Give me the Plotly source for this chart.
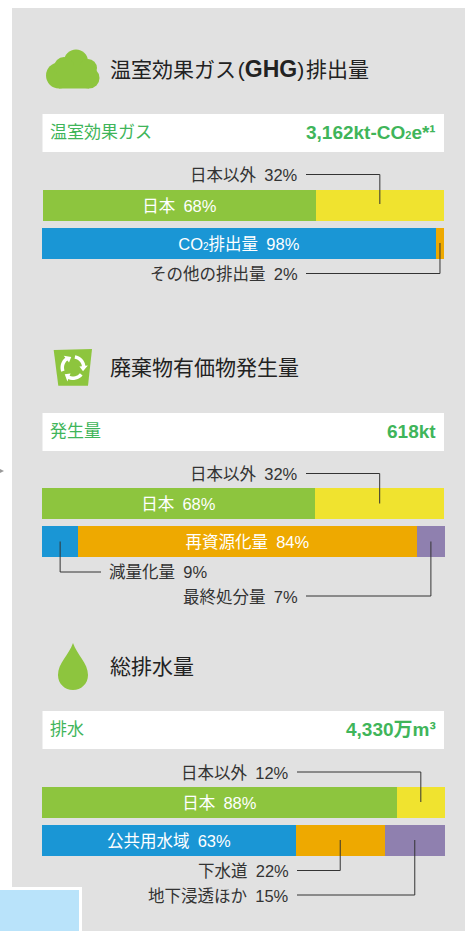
import math
import plotly.graph_objects as go

W, H = 465, 931
FONT = "Liberation Sans, Noto Sans CJK JP, sans-serif"

# ---- data ----
GREEN, YELLOW, BLUE, ORANGE, PURPLE = "#8dc53e", "#f0e32f", "#1a96d5", "#eea900", "#8f80af"

ghg_origin_values = [68, 32]
ghg_type_values = [98, 2]
waste_origin_values = [68, 32]
waste_type_values = [9, 84, 7]
water_origin_values = [88, 12]
water_type_values = [63, 22, 15]

SMALL2 = '<span style="font-size:10px">2</span>'
ghg_origin_names = ["日本", "日本以外"]
ghg_type_names = [f"CO{SMALL2}排出量", "その他の排出量"]
waste_origin_names = ["日本", "日本以外"]
waste_type_names = ["減量化量", "再資源化量", "最終処分量"]
water_origin_names = ["日本", "日本以外"]
water_type_names = ["公共用水域", "下水道", "地下浸透ほか"]

section_titles = [
    '温室効果ガス\u200a(<span style="font-size:23px;font-weight:bold">GHG</span>)\u200a排出量',
    "廃棄物有価物発生量",
    "総排水量",
]
total_names = ["温室効果ガス", "発生量", "排水"]
total_values = [
    '3,162kt-CO<span style="font-size:11px">2</span>e*¹',
    "618kt",
    "4,330万m³",
]

# ---- layout helpers (pixel positions on the page) ----
def fx(x): return x / W
def fy(y): return 1 - y / H

shapes, annotations = [], []

def rect(x0, y0, x1, y1, color, layer="below"):
    shapes.append(dict(type="rect", xref="paper", yref="paper", x0=fx(x0), x1=fx(x1),
                       y0=fy(y0), y1=fy(y1), fillcolor=color, line_width=0, layer=layer))

def circle(cx, cy, r, color):
    shapes.append(dict(type="circle", xref="paper", yref="paper", x0=fx(cx - r), x1=fx(cx + r),
                       y0=fy(cy - r), y1=fy(cy + r), fillcolor=color, line_width=0, layer="below"))

def path(points, color, closed=True):
    d = "M " + " L ".join(f"{fx(x):.5f},{fy(y):.5f}" for x, y in points) + (" Z" if closed else "")
    shapes.append(dict(type="path", xref="paper", yref="paper", path=d, fillcolor=color,
                       line_width=0, layer="below"))

def text(x, y, s, size, color, anchor="left", weight=None):
    font = dict(family=FONT, size=size, color=color)
    if weight:
        font["weight"] = weight
    annotations.append(dict(xref="paper", yref="paper", x=fx(x), y=fy(y), text=s, showarrow=False,
                            xanchor=anchor, yanchor="middle", font=font, borderpad=0, borderwidth=0))

# page furniture
rect(12, 8, W, H, "#e1e1e1")
path([(0, 469), (4, 471), (0, 473)], "#9a9a9a")
rect(0, 887, 82, H, "#ffffff")
rect(0, 890, 79, H, "#b9e3fa")

# section headers, total rows
for title, ty in zip(section_titles, [69, 367, 666]):
    text(110, ty, title, 21, "#222222")
for (y0, y1), name, value in zip([(114, 152), (413, 451), (711, 749)], total_names, total_values):
    rect(42.5, y0, 444, y1, "#ffffff")
    cy = (y0 + y1) / 2 - 0.5
    text(50, cy, name, 17, "#3fb55a")
    text(435.5, cy, value, 19, "#3fb55a", "right", 700)

# cloud icon
for c_ in [(59, 75.5, 13), (89, 78, 10.5), (76, 61.5, 12), (64, 67, 10), (88, 68, 9)]:
    circle(*c_, GREEN)
rect(59, 66, 89, 88.5, GREEN)

# recycling bin icon
path([(53.7, 350), (92, 349), (88, 385.7), (58.3, 385.7)], GREEN)
for start in (-80, 40, 160):
    a0, a1 = math.radians(start), math.radians(start + 72)
    steps = [a0 + (a1 - a0) * i / 8 for i in range(9)]
    outer = [(73 + 12.5 * math.cos(a), 367.5 + 12.5 * math.sin(a)) for a in steps]
    inner = [(73 + 9 * math.cos(a), 367.5 + 9 * math.sin(a)) for a in reversed(steps)]
    tip = (73 + 10.7 * math.cos(a1 + 0.5), 367.5 + 10.7 * math.sin(a1 + 0.5))
    wing_o = (73 + 15 * math.cos(a1), 367.5 + 15 * math.sin(a1))
    wing_i = (73 + 6.5 * math.cos(a1), 367.5 + 6.5 * math.sin(a1))
    path(outer + [wing_o, tip, wing_i] + inner, "#ffffff")

# water drop icon
def c(x, y): return f"{fx(x):.5f},{fy(y):.5f}"
shapes.append(dict(type="path", xref="paper", yref="paper", fillcolor=GREEN, line_width=0, layer="below",
                   path=f"M {c(73,643)} C {c(69,655)} {c(58,663)} {c(58,675)} C {c(58,684)} {c(65,690)} {c(73,690)} "
                        f"C {c(81,690)} {c(88,684)} {c(88,675)} C {c(88,663)} {c(77,655)} {c(73,643)} Z"))

# ---- bars: one stacked row per subplot, scaled 0-100 % ----
rows = [
    (ghg_origin_values, ghg_origin_names, [GREEN, YELLOW], [0], (43, 444), (190, 221)),
    (ghg_type_values, ghg_type_names, [BLUE, ORANGE], [0], (42, 444), (228, 259)),
    (waste_origin_values, waste_origin_names, [GREEN, YELLOW], [0], (42, 444), (488, 519)),
    (waste_type_values, waste_type_names, [BLUE, ORANGE, PURPLE], [1], (42, 445), (526, 557)),
    (water_origin_values, water_origin_names, [GREEN, YELLOW], [0], (42, 445), (787, 818)),
    (water_type_values, water_type_names, [BLUE, ORANGE, PURPLE], [0], (42, 445), (825, 856)),
]

fig = go.Figure()
axes = {}
mids = []
for i, (values, names, colors, labelled, xpx, ypx) in enumerate(rows, start=1):
    suffix = "" if i == 1 else str(i)
    axes[f"xaxis{suffix}"] = dict(domain=[fx(xpx[0]), fx(xpx[1])], range=[0, 100], visible=False,
                                  fixedrange=True, anchor=f"y{suffix}")
    axes[f"yaxis{suffix}"] = dict(domain=[fy(ypx[1]), fy(ypx[0])], range=[-0.5, 0.5], visible=False,
                                  fixedrange=True, anchor=f"x{suffix}")
    cum = 0
    row_mids = []
    for j, (v, n, col) in enumerate(zip(values, names, colors)):
        bar = dict(x=[v], y=[0], orientation="h", width=1, xaxis=f"x{suffix}", yaxis=f"y{suffix}",
                   marker=dict(color=col, line_width=0), showlegend=False, hoverinfo="skip")
        if j in labelled:
            bar.update(text=[f"{n}\u2002{v}%"], textposition="inside", insidetextanchor="middle",
                       textangle=0, constraintext="none",
                       insidetextfont=dict(family=FONT, size=16.5, color="#ffffff"))
        fig.add_trace(go.Bar(**bar))
        row_mids.append(cum + v / 2)
        cum += v
    mids.append(row_mids)

# ---- call-outs ----
def leader(row, seg, line_x0, line_y, end_y):
    suffix = "" if row == 1 else str(row)
    xref = f"x{suffix}"
    xm = mids[row - 1][seg]
    rowpx = rows[row - 1][4]
    xpx = rowpx[0] + (rowpx[1] - rowpx[0]) * xm / 100
    line = dict(color="#333333", width=1)
    shapes.append(dict(type="line", xref="paper", yref="paper", x0=fx(line_x0), x1=fx(xpx),
                       y0=fy(line_y), y1=fy(line_y), line=line, layer="above"))
    shapes.append(dict(type="line", xref=xref, yref="paper", x0=xm, x1=xm,
                       y0=fy(line_y), y1=fy(end_y), line=line, layer="above"))

LABEL = "#333333"
def label(x, y, name, value, anchor="right"):
    text(x, y, f"{name}\u2002{value}%", 16.5, LABEL, anchor)

label(297.5, 175, ghg_origin_names[1], ghg_origin_values[1])
leader(1, 1, 306, 174.5, 204)
label(297.5, 274, ghg_type_names[1], ghg_type_values[1])
leader(2, 1, 306, 273.5, 243)

label(297.5, 474, waste_origin_names[1], waste_origin_values[1])
leader(3, 1, 306, 473.5, 503.5)
label(108.5, 572, waste_type_names[0], waste_type_values[0], "left")
leader(4, 0, 101, 572, 541.5)
label(297.5, 597, waste_type_names[2], waste_type_values[2])
leader(4, 2, 306, 596, 541.5)

label(288.5, 772.5, water_origin_names[1], water_origin_values[1])
leader(5, 1, 297, 772, 802)
label(288.5, 871, water_type_names[1], water_type_values[1])
leader(6, 1, 297, 870.5, 840)
label(288.5, 896, water_type_names[2], water_type_values[2])
leader(6, 2, 297, 895, 840)

fig.update_layout(
    width=W, height=H, margin=dict(l=0, r=0, t=0, b=0), autosize=False,
    paper_bgcolor="#ffffff", plot_bgcolor="rgba(0,0,0,0)",
    barmode="stack", bargap=0, font=dict(family=FONT),
    shapes=shapes, annotations=annotations, **axes,
)
fig.write_html("out.html", config=dict(displayModeBar=False),
               post_script="document.body.style.margin='0';document.body.style.overflow='hidden';")
